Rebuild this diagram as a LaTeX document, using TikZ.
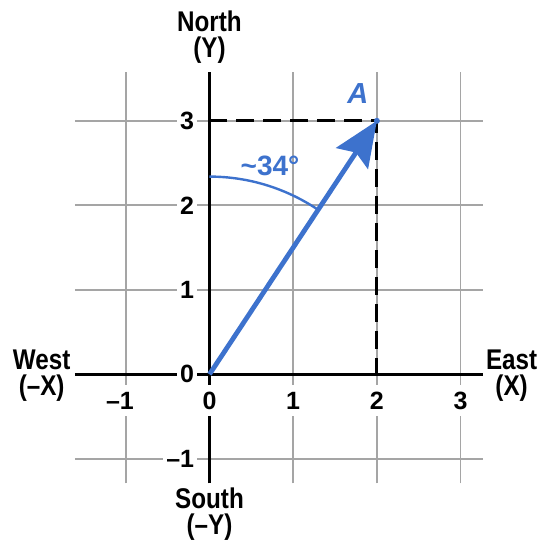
\documentclass[tikz,border=0pt]{standalone}
\usepackage{fontspec}
\setmainfont{Liberation Sans}
\newfontfamily\condfont[FakeStretch=0.85]{Liberation Sans}
\usetikzlibrary{arrows.meta}
\definecolor{vecblue}{RGB}{61,114,205}
\definecolor{gridgray}{RGB}{165,165,165}
\begin{document}
\begin{tikzpicture}[x=83.7bp,y=84.5bp,
  gridline/.style={draw=gridgray,line width=1.8bp},
  axisline/.style={draw=black,line width=2.6bp},
  guide/.style={draw=black,line width=3.2bp,dash pattern=on 18bp off 9bp},
  vector/.style={draw=vecblue,line width=4.8bp,-{Stealth[length=45bp,width=38bp,inset=7bp]}},
  anglearc/.style={draw=vecblue,line width=2.4bp},
  ticklabel/.style={fill=white,inner xsep=3bp,inner ysep=7bp,font=\fontsize{25bp}{25bp}\selectfont\bfseries},
  dirlabel/.style={align=center,inner sep=0pt,font=\condfont\bfseries\fontsize{28.5bp}{26bp}\selectfont},
  bluelabel/.style={text=vecblue,inner sep=1bp}
  ]
\useasboundingbox (-2.503,-1.961) rectangle (3.937,4.430);
% grid
\foreach \x in {-1,1,2,3} \draw[gridline] (\x,-1.29) -- (\x,3.578);
\foreach \y in {-1,1,2,3} \draw[gridline] (-1.607,\y) -- (3.268,\y);
% axes
\draw[axisline] (-1.607,0) -- (3.268,0);
\draw[axisline] (0,-1.29) -- (0,3.578);
% points
\coordinate (O) at (0,0);
\coordinate (A) at (2,3);
\coordinate (Ay) at (0,3);
\coordinate (Ax) at (2,0);
% guides
\draw[guide] (Ay) -- (A) -- (Ax);
% angle arc
\draw[anglearc] (0,2.34) arc[start angle=90,end angle=56.31,radius=2.34];
% vector
\draw[vector] (O) -- (A);
\fill[vecblue] (A) circle[radius=3bp];
% tick labels
\node[ticklabel,anchor=east] (y3) at (-0.145,3) {3};
\node[ticklabel,anchor=east] (y2) at (-0.145,2) {2};
\node[ticklabel,anchor=east] (y1) at (-0.145,1) {1};
\node[ticklabel,anchor=east] (y0) at (-0.145,0) {0};
\node[ticklabel,anchor=east] (ym1) at (-0.145,-1) {–1};
\node[ticklabel] (xm1) at (-1.07,-0.31) {–1};
\node[ticklabel] (x0) at (0,-0.31) {0};
\node[ticklabel] (x1) at (1,-0.31) {1};
\node[ticklabel] (x2) at (2,-0.31) {2};
\node[ticklabel] (x3) at (3,-0.31) {3};
% blue labels
\node[bluelabel,font=\bfseries\itshape\fontsize{29bp}{29bp}\selectfont] (Alab) at (1.774,3.323) {A};
\node[bluelabel,font=\bfseries\fontsize{28bp}{28bp}\selectfont] (ang) at (0.723,2.465) {\textasciitilde 34°};
% direction labels (base = baseline of the last line)
\node[dirlabel,anchor=base] (north) at (0,3.750) {North\\(Y)};
\node[dirlabel,anchor=base] (west) at (-2.005,-0.254) {West\\(–X)};
\node[dirlabel,anchor=base] (east) at (3.61,-0.249) {East\\(X)};
\node[dirlabel,anchor=base] (south) at (0,-1.89) {South\\(–Y)};
\end{tikzpicture}
\end{document}
